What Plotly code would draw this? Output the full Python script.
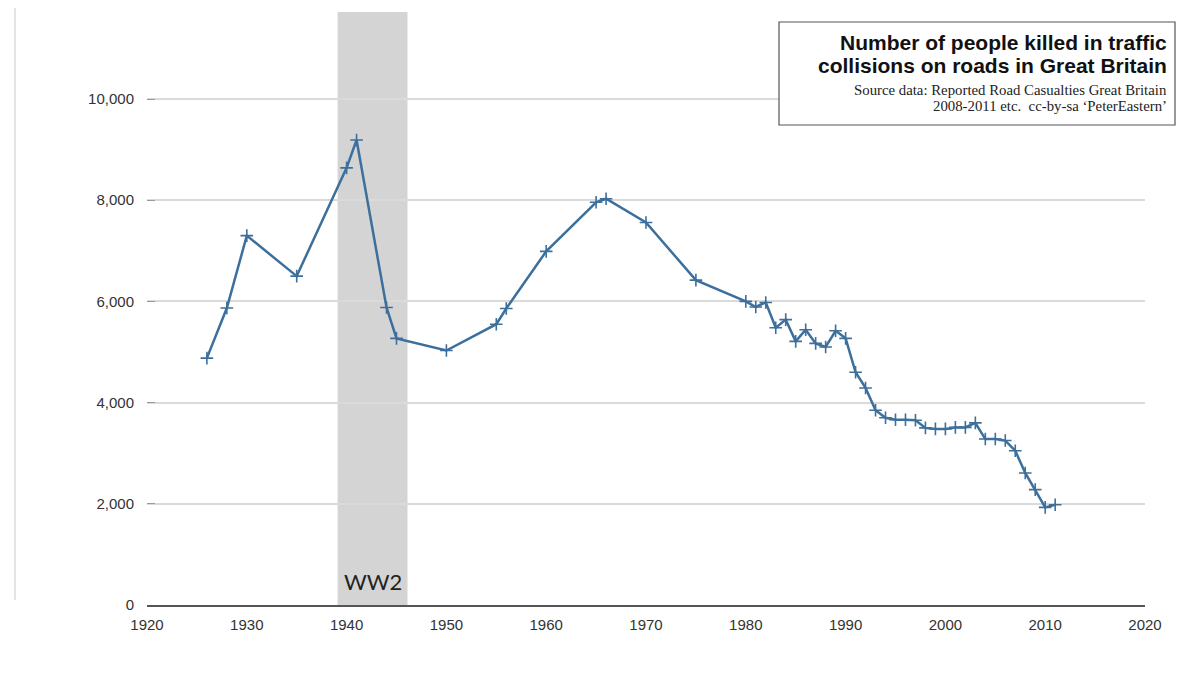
import plotly.graph_objects as go

years = [1926, 1928, 1930, 1935, 1940, 1941, 1944, 1945, 1950, 1955, 1956, 1960,
         1965, 1966, 1970, 1975, 1980, 1981, 1982, 1983, 1984, 1985, 1986, 1987,
         1988, 1989, 1990, 1991, 1992, 1993, 1994, 1995, 1996, 1997, 1998, 1999,
         2000, 2001, 2002, 2003, 2004, 2005, 2006, 2007, 2008, 2009, 2010, 2011]
killed = [4880, 5870, 7300, 6500, 8640, 9190, 5880, 5270, 5030, 5550, 5860, 6990,
          7960, 8030, 7560, 6420, 6000, 5890, 5980, 5480, 5640, 5210, 5440, 5170,
          5100, 5420, 5270, 4600, 4290, 3850, 3700, 3660, 3660, 3650, 3500, 3480,
          3480, 3510, 3510, 3600, 3280, 3280, 3250, 3050, 2610, 2280, 1930, 1980]

x_ticks = [1920, 1930, 1940, 1950, 1960, 1970, 1980, 1990, 2000, 2010, 2020]
y_ticks = [0, 2000, 4000, 6000, 8000, 10000]
y_tick_text = ["0", "2,000", "4,000", "6,000", "8,000", "10,000"]

war_start, war_end = 1939.1, 1946.1
war_label = "WW2"

title_lines = ["Number of people killed in traffic", "collisions on roads in Great Britain"]
source_lines = ["Source data: Reported Road Casualties Great Britain",
                "2008-2011 etc.  cc-by-sa \u2018PeterEastern\u2019"]

line_color = "#3d6f9c"

# page is offset by the 8px body margin; plot area in page px: x 147..1145, y 12..605
PW, PH = 998.0, 593.0
def px(xabs):
    return (xabs - 147) / PW
def py(yabs):
    return (605 - yabs) / PH

fig = go.Figure()

fig.add_vrect(x0=war_start, x1=war_end, fillcolor="#d4d4d4", line_width=0,
              layer="below", y0=0, y1=1)

fig.add_trace(go.Scatter(
    x=years, y=killed, mode="lines+markers",
    line=dict(color=line_color, width=2.5),
    marker=dict(symbol="cross-thin", size=9, line=dict(color=line_color, width=1.6)),
    showlegend=False, hoverinfo="x+y"))

fig.add_annotation(x=(war_start + war_end) / 2, y=py(581), yref="paper", xref="x",
                   text=war_label, showarrow=False, yanchor="middle",
                   font=dict(family="Lato, sans-serif", size=22, color="#222222"))

# title box
fig.add_shape(type="rect", xref="paper", yref="paper", x0=px(779), x1=px(1175),
              y0=py(125), y1=py(22), line=dict(color="#555555", width=1.2),
              fillcolor="white", layer="above")
for txt, yy in zip(title_lines, [42, 66]):
    fig.add_annotation(xref="paper", yref="paper", x=px(1169), y=py(yy), text="<b>" + txt + "</b>",
                       showarrow=False, xanchor="right", yanchor="middle",
                       font=dict(family="Liberation Sans, Arial, sans-serif", size=21, color="#111111"))
for txt, yy in zip(source_lines, [90, 106]):
    fig.add_annotation(xref="paper", yref="paper", x=px(1169), y=py(yy), text=txt,
                       showarrow=False, xanchor="right", yanchor="middle",
                       font=dict(family="Liberation Serif, Times New Roman, serif", size=14.8, color="#222222"))

# faint left border line (as in the reference)
fig.add_shape(type="line", xref="paper", yref="paper", x0=px(15), x1=px(15),
              y0=py(600), y1=py(0), line=dict(color="#c8c8c8", width=1))

fig.update_layout(
    width=1172, height=682,
    margin=dict(l=139, r=35, t=4, b=85),
    plot_bgcolor="white", paper_bgcolor="white",
    font=dict(family="Liberation Sans, Arial, sans-serif", size=15, color="#333333"),
)
fig.update_xaxes(range=[1920, 2020], tickvals=x_ticks, showgrid=False,
                 showline=True, linecolor="#555555", linewidth=1.5,
                 ticks="", zeroline=False, ticklabelstandoff=5,
                 tickfont=dict(size=15, color="#333333"))
fig.update_yaxes(range=[0, 11720], tickvals=y_ticks, ticktext=y_tick_text,
                 showgrid=True, gridcolor="#dadada", gridwidth=1.5,
                 zeroline=False, showline=False, ticks="inside", ticklen=8,
                 tickcolor="#999999", ticklabelstandoff=12,
                 tickfont=dict(size=15, color="#333333"))

fig.write_html("out.html")
